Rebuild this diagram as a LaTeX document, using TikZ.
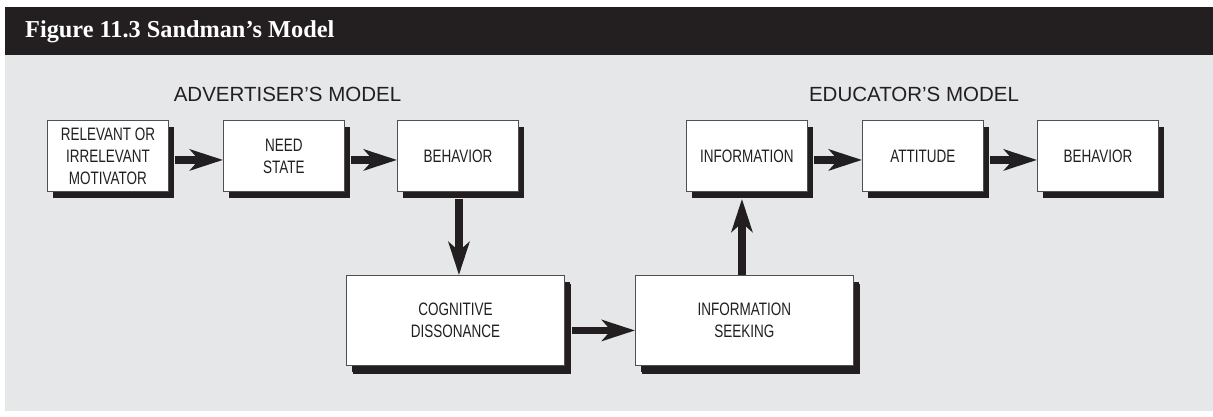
\documentclass[tikz,border=0pt]{standalone}
\usepackage{fontspec}
\setmainfont{Liberation Sans}
\newfontfamily\condfont[FakeStretch=0.75]{Liberation Sans}
\newfontfamily\headfont{Liberation Serif}
\usetikzlibrary{arrows.meta,shadows}
\definecolor{bgc}{RGB}{230,231,232}
\definecolor{ink}{RGB}{35,31,32}
\definecolor{edge}{RGB}{80,80,80}
\begin{document}
\begin{tikzpicture}[x=1pt,y=-1pt,
  boxtop/.style={draw=edge,line width=0.9pt,fill=white,inner sep=0pt,anchor=north west,
    minimum width=121pt,minimum height=71pt,align=center,text=ink,
    font=\condfont\fontsize{18}{22}\selectfont,
    drop shadow={shadow xshift=6pt,shadow yshift=-7pt,fill=ink,opacity=1}},
  boxbot/.style={boxtop,minimum width=218pt,minimum height=90pt,
    drop shadow={shadow xshift=7pt,shadow yshift=-9pt,fill=ink,opacity=1}},
  arr/.style={draw=ink,line width=7.5pt,-{Stealth[length=33pt,width=21pt,inset=9pt]}},
  ttl/.style={text=ink,font=\fontsize{20.5}{24}\selectfont,inner sep=0pt}]
\useasboundingbox (0,0) rectangle (1213,417);
\fill[bgc] (5,55) rectangle (1213,411);
\fill[ink] (5,7) rectangle (1213,55);
\node[anchor=base west,inner sep=0pt,text=white,font=\headfont\bfseries\fontsize{24.3}{28}\selectfont] (hdr) at (25,37.3) {Figure 11.3 Sandman’s Model};
\node[ttl] (adv) at (287.5,94) {ADVERTISER’S MODEL};
\node[ttl] (edu) at (914,94) {EDUCATOR’S MODEL};
% top row
\node[boxtop] (mot) at (47,120) {RELEVANT OR\\IRRELEVANT\\MOTIVATOR};
\node[boxtop] (need) at (223,120) {NEED\\STATE};
\node[boxtop] (beh) at (397,120) {BEHAVIOR};
\node[boxtop] (info) at (686,120) {INFORMATION};
\node[boxtop] (att) at (862,120) {ATTITUDE};
\node[boxtop] (beh2) at (1037,120) {BEHAVIOR};
% bottom row
\node[boxbot] (cog) at (346,275) {COGNITIVE\\DISSONANCE};
\node[boxbot] (seek) at (635,275) {INFORMATION\\SEEKING};
% arrows
\draw[arr] ([shift={(6pt,-4pt)}]mot.east) -- ([yshift=-4pt]need.west);
\draw[arr] ([shift={(6pt,-4pt)}]need.east) -- ([yshift=-4pt]beh.west);
\draw[arr] ([shift={(6pt,-4pt)}]info.east) -- ([yshift=-4pt]att.west);
\draw[arr] ([shift={(6pt,-4pt)}]att.east) -- ([yshift=-4pt]beh2.west);
\draw[arr] ([shift={(1pt,-7pt)}]beh.south) -- ([xshift=1pt]beh.south |- cog.north);
\draw[arr] ([shift={(7pt,-10pt)}]cog.east) -- ([yshift=-10pt]seek.west);
\draw[arr] ([xshift=-2.5pt]seek.north) -- ([shift={(-2.5pt,-7pt)}]seek.north |- info.south);
\end{tikzpicture}
\end{document}
